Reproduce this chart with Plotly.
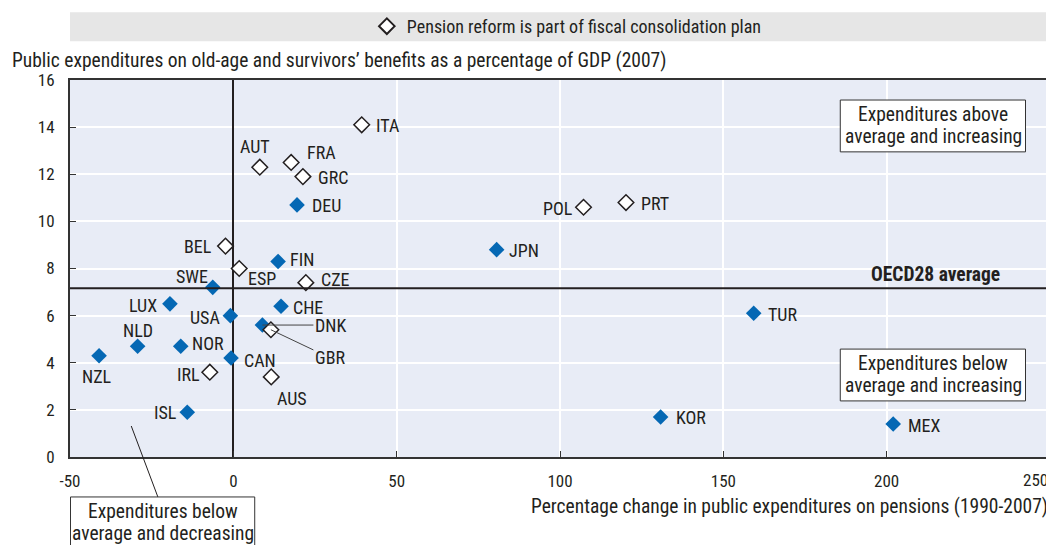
import plotly.graph_objects as go

# ---------------- data ----------------
# Countries without fiscal-consolidation pension reform (filled blue diamonds)
blue_countries = ["DEU", "JPN", "FIN", "SWE", "LUX", "CHE", "USA", "TUR", "DNK",
                  "NLD", "NOR", "NZL", "CAN", "ISL", "KOR", "MEX"]
blue_change = [19.5, 80.6, 13.7, -6.3, -19.4, 14.6, -0.9, 159.3, 8.9,
               -29.3, -16.1, -41.1, -0.7, -14.1, 130.8, 202.0]
blue_spend = [10.7, 8.8, 8.3, 7.2, 6.5, 6.4, 6.0, 6.1, 5.6,
              4.7, 4.7, 4.3, 4.2, 1.9, 1.7, 1.4]

# Countries where pension reform is part of fiscal consolidation plan (hollow diamonds)
open_countries = ["ITA", "AUT", "FRA", "GRC", "POL", "PRT", "BEL", "ESP", "CZE",
                  "GBR", "IRL", "AUS"]
open_change = [39.3, 8.1, 17.7, 21.3, 107.2, 120.2, -2.4, 1.8, 22.2,
               11.5, -7.2, 11.6]
open_spend = [14.1, 12.3, 12.5, 11.9, 10.6, 10.8, 8.95, 8.0, 7.4,
              5.4, 3.6, 3.4]

OECD_AVG = 7.16

x_ticks = [-50, 0, 50, 100, 150, 200, 250]
y_ticks = [0, 2, 4, 6, 8, 10, 12, 14, 16]

# ---------------- style ----------------
FONT = "Roboto Condensed, Liberation Sans Narrow, Arial Narrow, sans-serif"
TXT = "#231f20"
BLUE = "#0568b4"
BG = "#e8ecf6"
LBL = 18      # country labels
BOX = 19.5    # text in boxes
TICK = 17

# label placement (xanchor, xshift px, yshift px)
label_pos = {
    "ITA": ("left", 12, -1), "AUT": ("center", -5, 21), "FRA": ("left", 14, 10),
    "GRC": ("left", 13, -1), "DEU": ("left", 13, -1), "POL": ("right", -9, -1),
    "PRT": ("left", 13, -1), "JPN": ("left", 10, -1), "BEL": ("right", -11, 0),
    "FIN": ("left", 10, 2), "ESP": ("left", 7, -10), "CZE": ("left", 13, 3),
    "SWE": ("right", -3, 11), "LUX": ("right", -11, -2), "CHE": ("left", 10, -1),
    "USA": ("right", -8, -2), "TUR": ("left", 12, -1), "NLD": ("center", 0, 16),
    "NOR": ("left", 9, 3), "NZL": ("center", -2, -21), "CAN": ("left", 11, -2),
    "IRL": ("right", -8, -2), "AUS": ("center", 21, -22), "ISL": ("right", -8, 0),
    "KOR": ("left", 13, -1), "MEX": ("left", 13, -1),
}
leader = {"DNK": (68, 0), "GBR": (59, 28)}

fig = go.Figure()

fig.add_trace(go.Scatter(
    x=blue_change, y=blue_spend, mode="markers", showlegend=False,
    marker=dict(symbol="diamond", size=12, color=BLUE, line=dict(width=0)),
    hoverinfo="skip"))

fig.add_trace(go.Scatter(
    x=open_change, y=open_spend, mode="markers",
    name="Pension reform is part of fiscal consolidation plan",
    marker=dict(symbol="diamond", size=12, color="white",
                line=dict(width=1.5, color="#231f20")),
    hoverinfo="skip"))

annotations = []
for names, xs, ys in [(blue_countries, blue_change, blue_spend),
                      (open_countries, open_change, open_spend)]:
    for n, xv, yv in zip(names, xs, ys):
        if n in leader:
            ax, ay = leader[n]
            annotations.append(dict(
                x=xv, y=yv, xref="x", yref="y", text=n, showarrow=True,
                ax=ax, ay=ay, arrowhead=0, arrowwidth=1, arrowcolor="#444",
                standoff=0, font=dict(family=FONT, size=LBL, color=TXT)))
        else:
            xa, dx, dy = label_pos[n]
            annotations.append(dict(
                x=xv, y=yv, xref="x", yref="y", text=n, showarrow=False,
                xanchor=xa, yanchor="middle", xshift=dx, yshift=dy,
                font=dict(family=FONT, size=LBL, color=TXT)))

box_font = dict(family=FONT, size=BOX, color=TXT)
shapes = [
    # legend band
    dict(type="rect", xref="paper", yref="paper", x0=0, x1=1, y0=1.103, y1=1.180,
         fillcolor="#e6e6e6", line=dict(width=0), layer="below"),
    # OECD average line
    dict(type="line", xref="x", yref="y", x0=-50, x1=250, y0=OECD_AVG, y1=OECD_AVG,
         line=dict(color="#231f20", width=2)),
    # leader line to lower-left box
    dict(type="line", xref="x", yref="paper", x0=-31.25, y0=0.0822, x1=-23.1, y1=-0.106,
         line=dict(color="#231f20", width=1)),
    # quadrant boxes
    dict(type="rect", xref="x", yref="y", x0=185.8, x1=242.5, y0=12.95, y1=15.15,
         fillcolor="white", line=dict(color="#333", width=1)),
    dict(type="rect", xref="x", yref="y", x0=185.8, x1=242.5, y0=2.38, y1=4.58,
         fillcolor="white", line=dict(color="#333", width=1)),
    dict(type="rect", xref="x", yref="paper", x0=-49.85, x1=6.55, y0=-0.245, y1=-0.106,
         fillcolor="white", line=dict(color="#333", width=1)),
]

box_lines = [
    ("x", "y", 214.2, 14.52, "Expenditures above"),
    ("x", "y", 214.2, 13.62, "average and increasing"),
    ("x", "y", 214.2, 3.95, "Expenditures below"),
    ("x", "y", 214.2, 3.05, "average and increasing"),
    ("x", "paper", -21.6, -0.1446, "Expenditures below"),
    ("x", "paper", -21.6, -0.2016, "average and decreasing"),
]
for xr, yr, xv, yv, t in box_lines:
    annotations.append(dict(x=xv, y=yv, xref=xr, yref=yr, text=t, showarrow=False,
                            xanchor="center", yanchor="middle", font=box_font))

annotations += [
    dict(x=235.2, y=OECD_AVG, xref="x", yref="y", showarrow=False,
         xanchor="right", yanchor="bottom", yshift=0,
         text="<b>OECD28 average</b>", font=dict(family=FONT, size=BOX, color=TXT)),
    dict(x=-0.0612, y=1.053, xref="paper", yref="paper", showarrow=False,
         xanchor="left", yanchor="middle",
         text="Public expenditures on old-age and survivors’ benefits as a percentage of GDP (2007)",
         font=dict(family=FONT, size=19.5, color=TXT)),
    dict(x=1.0, y=-0.1326, xref="paper", yref="paper", showarrow=False,
         xanchor="right", yanchor="middle",
         text="Percentage change in public expenditures on pensions (1990-2007)",
         font=dict(family=FONT, size=19.5, color=TXT)),
    dict(x=x_ticks[-1], y=-0.062, xref="x", yref="paper", showarrow=False,
         xanchor="right", yanchor="middle", text=str(x_ticks[-1]),
         font=dict(family=FONT, size=TICK, color=TXT)),
]

# page body has an 8px margin: size the figure so the plot sits where the reference has it
fig.update_layout(
    width=1046, height=537,
    margin=dict(l=62, r=4, t=72, b=88, autoexpand=False),
    paper_bgcolor="white", plot_bgcolor=BG,
    font=dict(family=FONT, size=16, color=TXT),
    showlegend=True,
    legend=dict(orientation="h", x=0.507, xanchor="center", y=1.142, yanchor="middle",
                bgcolor="rgba(0,0,0,0)", font=dict(family=FONT, size=18, color=TXT),
                itemsizing="constant"),
    annotations=annotations,
    shapes=shapes,
)

fig.update_xaxes(
    range=[-50, 250], tickvals=x_ticks[:-1], ticktext=[str(v) for v in x_ticks[:-1]],
    showgrid=True, gridcolor="white", gridwidth=1.5,
    zeroline=True, zerolinecolor="#231f20", zerolinewidth=2,
    showline=True, mirror=True, linecolor="#333", linewidth=2,
    ticks="inside", ticklen=6, tickcolor="#333", ticklabelstandoff=8,
    tickfont=dict(family=FONT, size=TICK, color=TXT), automargin=False,
)
fig.update_yaxes(
    range=[0, 16], tickvals=y_ticks, showgrid=True, gridcolor="white", gridwidth=1.5,
    zeroline=False,
    showline=True, mirror=True, linecolor="#333", linewidth=2,
    ticks="inside", ticklen=6, tickcolor="#333", ticklabelstandoff=10,
    tickfont=dict(family=FONT, size=TICK, color=TXT), automargin=False,
)

fig.write_html("out.html")
